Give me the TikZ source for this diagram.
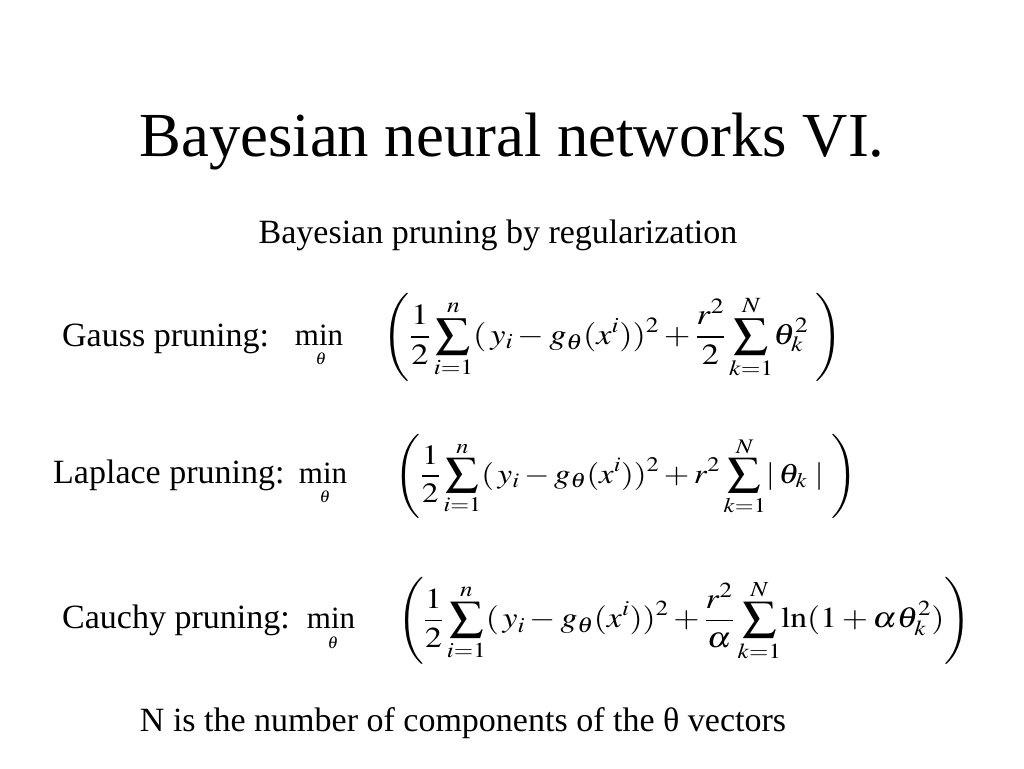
\documentclass[tikz,border=0pt]{standalone}
\usepackage{graphicx}
\usepackage{mathptmx}
\usepackage[no-math]{fontspec}
\setmainfont{Liberation Serif}
\newcommand{\fml}[3]{\resizebox*{#1pt}{#2pt}{\fontsize{30}{36}\selectfont$\displaystyle #3$}}
\tikzset{
  txt/.style={inner sep=0pt, anchor=base, font=\fontsize{34}{40}\selectfont},
  ttl/.style={inner sep=0pt, anchor=base, font=\fontsize{62.7}{70}\selectfont},
  fbox/.style={inner sep=0pt, anchor=center},
  minop/.style={inner sep=0pt, anchor=base, font=\fontsize{31}{36}\selectfont},
  minsub/.style={inner sep=0pt, anchor=base, font=\fontsize{17}{20}\selectfont}
}
\begin{document}
\begin{tikzpicture}[x=1pt,y=-1pt]
\useasboundingbox[fill=white] (0,0) rectangle (1024,768);
\node[ttl] (title) at (512,156) {Bayesian neural networks VI.};
\node[txt] (sub) at (498,243) {Bayesian pruning by regularization};
% Gauss
\node[txt,anchor=base west] (gl) at (62,346) {Gauss pruning:};
\node[minop] (gmin) at (319,345) {min};
\node[minsub] (gth) at (321,364) {$\theta$};
\node[fbox] (gf) at (613,337) {\fml{460}{88}{\left(\frac{1}{2}\sum_{i=1}^{n}(\,y_i-g_\theta(x^i))^2+\frac{r^2}{2}\sum_{k=1}^{N}\!\theta_k^2\;\right)}};
% Laplace
\node[txt,anchor=base west] (ll) at (53,483) {Laplace pruning:};
\node[minop] (lmin) at (323,483) {min};
\node[minsub] (lth) at (325,502) {$\theta$};
\node[fbox] (lf) at (626,476) {\fml{462}{84}{\left(\frac{1}{2}\sum_{i=1}^{n}(\,y_i-g_\theta(x^i))^2+r^2\sum_{k=1}^{N}\!|\,\theta_k\;|\;\right)}};
% Cauchy
\node[txt,anchor=base west] (cl) at (62,628) {Cauchy pruning:};
\node[minop] (cmin) at (331,628) {min};
\node[minsub] (cth) at (333,648) {$\theta$};
\node[fbox] (cf) at (684,620.5) {\fml{574}{87}{\left(\frac{1}{2}\sum_{i=1}^{n}(\,y_i-g_\theta(x^i))^2+\frac{r^2}{\alpha}\sum_{k=1}^{N}\!\mathrm{ln}(1+\alpha\theta_k^2)\right)}};
\node[txt] (note) at (463,731) {N is the number of components of the θ vectors};
\end{tikzpicture}
\end{document}
